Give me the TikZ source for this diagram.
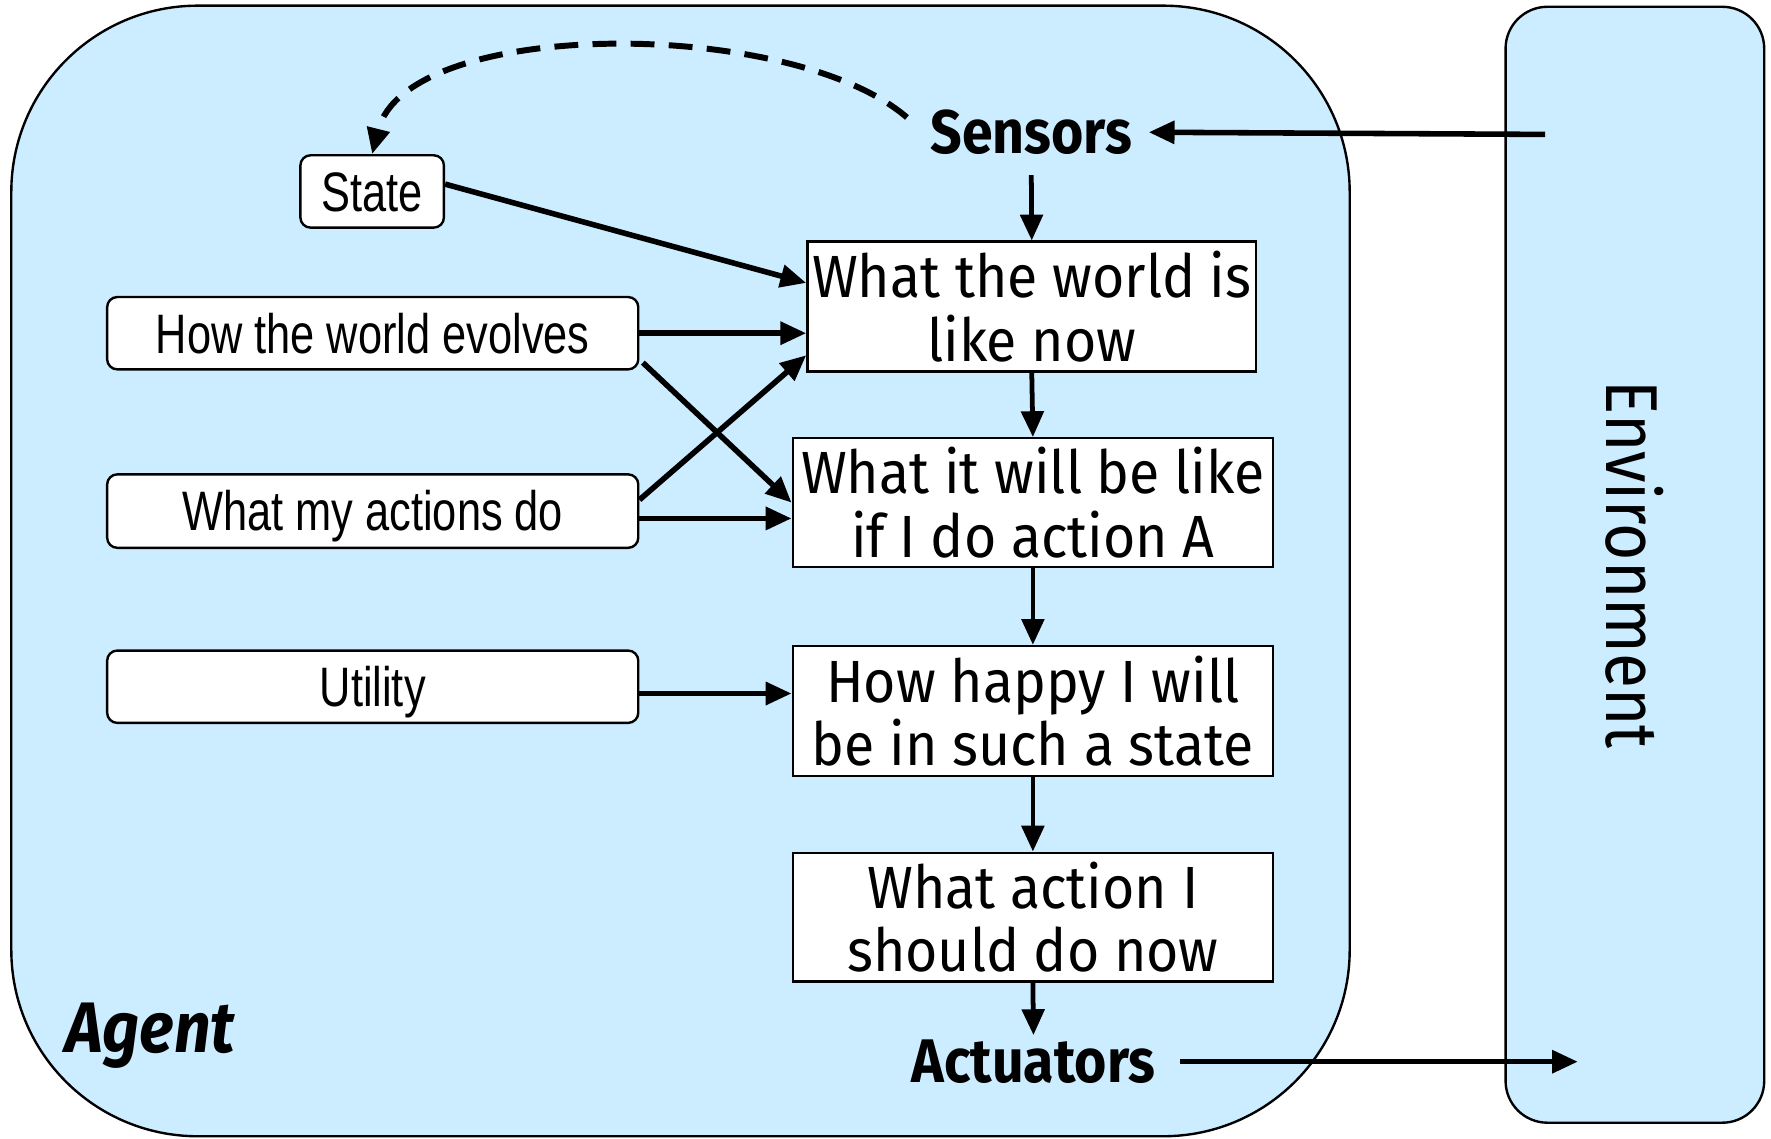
\documentclass[tikz,border=0pt]{standalone}
\usepackage{fontspec}
\usetikzlibrary{arrows.meta}
\newfontfamily\comic[FakeStretch=0.93]{Fira Sans}
\newfontfamily\comicb[FakeStretch=0.9]{Fira Sans}
\newfontfamily\comicenv[FakeStretch=0.87]{Fira Sans}
\newfontfamily\narrowf[FakeStretch=0.78]{Liberation Sans}
\definecolor{agentblue}{RGB}{204,236,255}
\tikzset{
  arr/.style={-{Triangle[length=6.5pt,width=5.6pt]}, line width=1.4pt},
  varr/.style={-{Triangle[length=6.5pt,width=5.6pt]}, line width=1.2pt},
  cbox/.style={draw, line width=0.6pt, fill=white, minimum width=4.25cm, minimum height=1.14cm,
    inner sep=0pt, align=center, font=\comic\fontsize{15}{16}\selectfont},
  lbox/.style={draw, line width=0.6pt, fill=white, rounded corners=0.09cm, minimum width=4.7cm,
    minimum height=0.64cm, inner sep=0pt, text height=10pt, text depth=0pt,
    font=\narrowf\fontsize{14}{16}\selectfont},
  biglabel/.style={font=\comicb\bfseries\fontsize{15.5}{18}\selectfont, inner sep=1pt},
}
\begin{document}
\begin{tikzpicture}[x=0.01cm, y=-0.01cm]
\useasboundingbox (0,0) rectangle (1568,1008);
% containers
\draw[line width=0.6pt, fill=agentblue, rounded corners=1.65cm]
  (10,1006) -- (10,5) -- (1195,5) -- (1195,1006) -- cycle;
\draw[line width=0.6pt, fill=agentblue, rounded corners=0.37cm]
  (1333,6) rectangle (1562,994);
\node[rotate=-90, font=\comicenv\fontsize{18.5}{20}\selectfont, inner sep=0pt] (envlabel) at (1447,500) {Environment};
\node[font=\comicb\bfseries\itshape\fontsize{18}{20}\selectfont, inner sep=0pt] (agentlabel) at (133,917) {Agent};

% labels
\node[biglabel] (sensors) at (913,117) {Sensors};
\node[biglabel] (actuators) at (915,940) {Actuators};

% boxes
\node[cbox, minimum width=3.97cm, minimum height=1.15cm] (wnow) at (913.5,271.5) {What the world is\\like now};
\node[cbox] (ifa) at (914.5,445) {What it will be like\\if I do action A};
\node[cbox, minimum height=1.15cm] (happy) at (914.5,629.5) {How happy I will\\be in such a state};
\node[cbox] (act) at (914.5,812) {What action I\\should do now};

\node[lbox, minimum width=1.27cm] (state) at (329.5,169.5) {State};
\node[lbox] (evolves) at (330,295) {How the world evolves};
\node[lbox, minimum height=0.65cm] (actions) at (330,452.5) {What my actions do};
\node[lbox] (utility) at (330,608) {Utility};

% free ends
\coordinate (envin) at (1368,119);
\coordinate (envout) at (1397,940);
\coordinate (dstart) at (803,104);
\coordinate (a1) at ([yshift=-0.065cm]actions.east);
\coordinate (a2) at ([yshift=0.1cm]actions.east);
\coordinate (u1) at ([yshift=-0.06cm]utility.east);
\coordinate (e2) at ([xshift=0.03cm,yshift=0.07cm]evolves.south east);
\coordinate (actstart) at ([xshift=0.18cm]actuators.east);

% connectors
\draw[arr, shorten >=3pt] (envin) -- (sensors.east);
\draw[arr] (actstart) -- (envout);
\draw[varr, shorten <=4pt] (sensors.south) -- (wnow.north);
\draw[varr] (wnow.south) -- (ifa.north);
\draw[varr] (ifa.south) -- (happy.north);
\draw[varr] (happy.south) -- (act.north);
\draw[varr] (act.south) -- (actuators.north);
\draw[arr] ([yshift=0.065cm]state.east) -- ([yshift=0.21cm]wnow.west);
\draw[arr] (evolves.east) -- (evolves.east -| wnow.west);
\draw[arr] (e2) -- (ifa.west);
\draw[arr] (a2) -- ([yshift=-0.43cm]wnow.west);
\draw[arr] (a1) -- (a1 -| ifa.west);
\draw[arr] (u1) -- (u1 -| happy.west);
\draw[arr, line width=1.5pt, dash pattern=on 6pt off 3.6pt]
  (dstart) .. controls (700,15) and (360,15) .. (state.north);
\end{tikzpicture}
\end{document}
